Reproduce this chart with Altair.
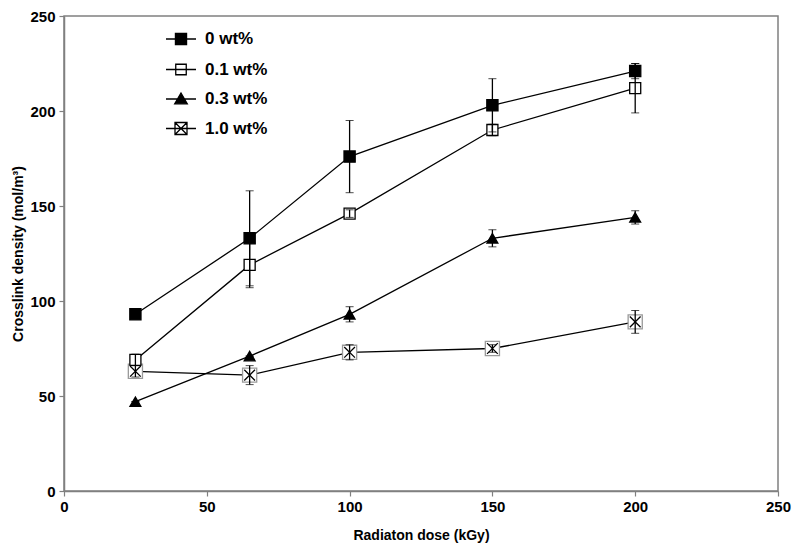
import altair as alt
import pandas as pd

doses = [25, 65, 100, 150, 200]
series_names = ["0 wt%", "0.1 wt%", "0.3 wt%", "1.0 wt%"]
density_0 = [93, 133, 176, 203, 221]
error_0 = [0, 25, 19, 14, 4]
density_01 = [69, 119, 146, 190, 212]
error_01 = [3, 12, 2, 3, 13]
density_03 = [47, 71, 93, 133, 144]
error_03 = [0, 0, 4, 4.5, 3.5]
density_10 = [63, 61, 73, 75, 89]
error_10 = [3, 5, 4, 2, 6]
x_ticks = [0, 50, 100, 150, 200, 250]
y_ticks = [0, 50, 100, 150, 200, 250]

rows = []
for name, vals, errs in zip(series_names,
                            [density_0, density_01, density_03, density_10],
                            [error_0, error_01, error_03, error_10]):
    for d, v, e in zip(doses, vals, errs):
        rows.append({"series": name, "dose": d, "density": v, "lo": v - e, "hi": v + e})
df = pd.DataFrame(rows)

FONT = "Liberation Sans"
x_axis = alt.Axis(values=x_ticks, title="Radiaton dose (kGy)", labelPadding=3,
                  titlePadding=14, labelFlush=False)
y_axis = alt.Axis(values=y_ticks, title="Crosslink density (mol/m³)", labelPadding=4,
                  titlePadding=4, labelFlush=False)
x_scale = alt.Scale(domain=[0, 250], nice=False)
y_scale = alt.Scale(domain=[0, 250], nice=False)

X = alt.X("dose:Q", scale=x_scale, axis=x_axis)
Y = alt.Y("density:Q", scale=y_scale, axis=y_axis)

base = alt.Chart(df)

lines = base.mark_line(color="black", strokeWidth=1.3).encode(x=X, y=Y, detail="series:N")

box10 = base.transform_filter(alt.datum.series == "1.0 wt%").mark_point(
    shape="square", size=200, stroke="#9a9a9a", strokeWidth=1.3, fill="white",
    opacity=1, fillOpacity=1
).encode(x=X, y=Y)

plot_shapes = ["square", "square", "triangle-up", "M-1,-1L1,1M-1,1L1,-1"]
fill_range = ["black", "white", "black", "transparent"]
size_range = [125, 115, 150, 110]

points = base.mark_point(stroke="black", strokeWidth=1.3, opacity=1, fillOpacity=1).encode(
    x=X, y=Y,
    shape=alt.Shape("series:N", scale=alt.Scale(domain=series_names, range=plot_shapes), legend=None),
    fill=alt.Fill("series:N", scale=alt.Scale(domain=series_names, range=fill_range), legend=None),
    size=alt.Size("series:N", scale=alt.Scale(domain=series_names, range=size_range), legend=None),
)

errbars = base.mark_errorbar(
    ticks={"size": 8, "color": "black", "strokeWidth": 1.3},
    rule={"color": "black", "strokeWidth": 1.3},
).encode(
    x=X,
    y=alt.Y("lo:Q", scale=y_scale, axis=y_axis),
    y2="hi:Q",
)

legend_shapes = [
    "M-1,0H1M-0.37,-0.37H0.37V0.37H-0.37Z",
    "M-1,0H1M-0.35,-0.35H0.35V0.35H-0.35Z",
    "M-1,0H1M0,-0.4L0.42,0.32H-0.42Z",
    "M-1,0H1M-0.35,-0.35L0.35,0.35M-0.35,0.35L0.35,-0.35M-0.4,-0.4H0.4V0.4H-0.4Z",
]
stroke_range = ["black", "black", "black", "black"]
leg = alt.Legend(title=None, orient="none", legendX=101, legendY=7, padding=0,
                 symbolSize=900, rowPadding=5.5, labelOffset=8,
                 labelFont=FONT, labelFontSize=17, labelFontWeight="bold",
                 labelColor="black", symbolStrokeWidth=1.3, symbolOpacity=1)
legend_layer = base.transform_filter("false").mark_point(
    strokeWidth=1.3, opacity=1, fillOpacity=1, size=900
).encode(
    x=X, y=Y,
    shape=alt.Shape("series:N", scale=alt.Scale(domain=series_names, range=legend_shapes), legend=leg),
    fill=alt.Fill("series:N", scale=alt.Scale(domain=series_names, range=fill_range), legend=leg),
    stroke=alt.Stroke("series:N", scale=alt.Scale(domain=series_names, range=stroke_range), legend=leg),
)

chart = alt.layer(lines, box10, points, errbars, legend_layer).resolve_scale(
    shape="independent", fill="independent", size="independent", stroke="independent"
).properties(
    width=714, height=475,
    autosize=alt.AutoSizeParams(type="none"),
    padding={"left": 56, "top": 8, "right": 14, "bottom": 54},
).configure_view(
    stroke="#808080", strokeWidth=1.5
).configure_axis(
    grid=False,
    domainColor="#808080", domainWidth=1.5,
    tickColor="#808080", tickSize=5, tickWidth=1.2,
    labelFont=FONT, labelFontSize=15, labelFontWeight="bold", labelColor="black",
    titleFont=FONT, titleFontSize=14, titleFontWeight="bold", titleColor="black",
)

chart.save("out.html", embed_options={"renderer": "svg", "actions": False})
